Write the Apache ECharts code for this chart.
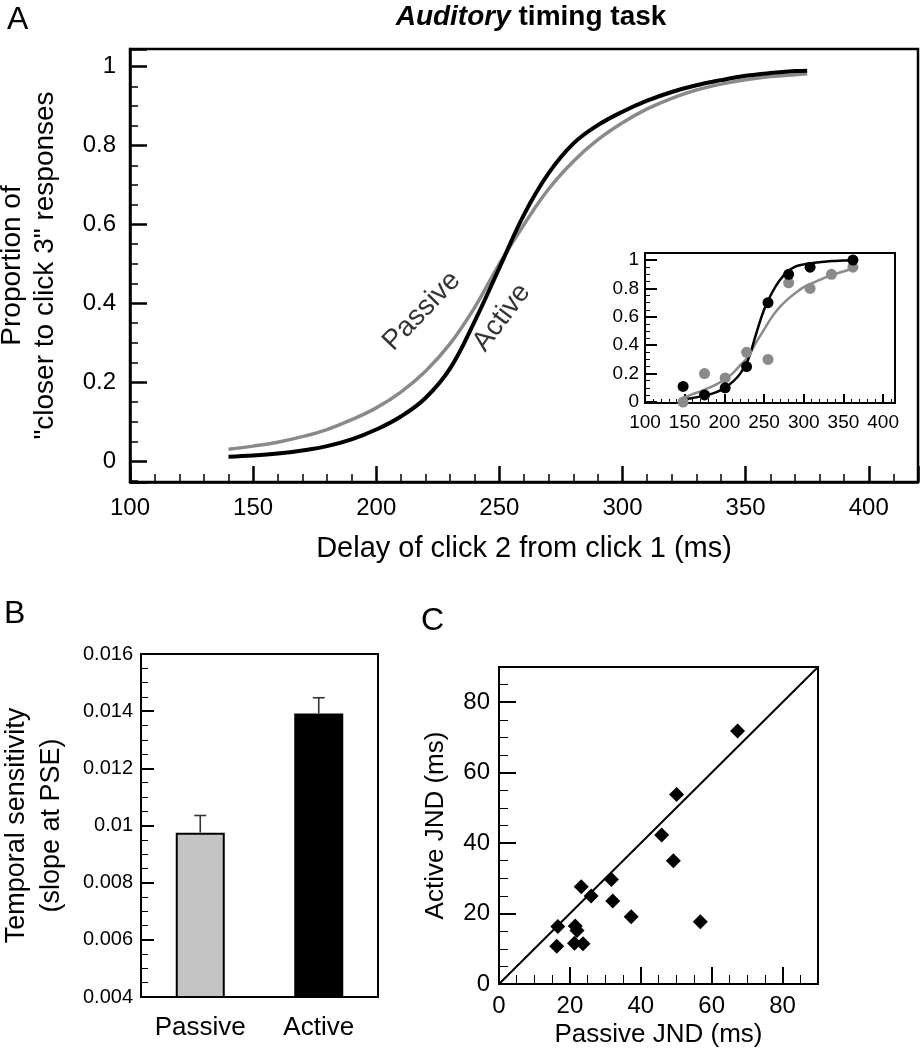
<!DOCTYPE html>
<html><head><meta charset="utf-8">
<script src="https://cdn.jsdelivr.net/npm/echarts@6/dist/echarts.min.js"></script>
<style>html,body{margin:0;padding:0;background:#fff}#c{width:922px;height:1050px}</style>
</head><body><div id="c"></div>
<script>
const FONT = '"Liberation Sans", Arial, Helvetica, sans-serif';

// ---- Panel A: group psychometric functions ----
const curveDelays  = [140,150,160,170,180,190,200,210,220,230,240,250,260,270,280,290,300,310,320,330,340,350,360,370,375];
const activeCurve  = [0.011,0.014,0.019,0.027,0.038,0.055,0.08,0.113,0.16,0.235,0.355,0.49,0.625,0.73,0.805,0.852,0.886,0.914,0.936,0.953,0.966,0.977,0.984,0.989,0.99];
const passiveCurve = [0.03,0.038,0.048,0.062,0.08,0.105,0.135,0.175,0.228,0.298,0.39,0.50,0.60,0.69,0.76,0.815,0.858,0.893,0.92,0.941,0.956,0.967,0.975,0.98,0.982];
const curveNames = ['Passive', 'Active'];

// ---- Inset: single subject ----
const insetActiveX  = [148,175,201,228,255,281,308,362];
const insetActiveY  = [0.11,0.05,0.10,0.25,0.70,0.90,0.95,1.0];
const insetPassiveX = [148,175,201,228,255,281,308,335,362];
const insetPassiveY = [0.0,0.20,0.17,0.35,0.30,0.84,0.80,0.90,0.95];
const insetFitX        = [148,160,175,190,200,210,220,230,240,250,260,270,280,290,300,310,320,335,350,362];
const insetFitActive   = [0.016,0.028,0.045,0.07,0.098,0.14,0.20,0.30,0.48,0.65,0.77,0.86,0.92,0.955,0.97,0.978,0.985,0.993,0.997,1.0];
const insetFitPassive  = [0.03,0.055,0.087,0.125,0.157,0.20,0.26,0.32,0.42,0.51,0.60,0.67,0.725,0.77,0.81,0.835,0.86,0.895,0.92,0.94];

// ---- Panel B: slope at PSE ----
const groupNames = ['Passive', 'Active'];
const slopeMeans = [0.00975, 0.01392];
const slopeErrs  = [0.0006, 0.00055];

// ---- Panel C: JNDs ----
const passiveJND = [67.3,50.1,45.9,49.2,56.8,31.7,23.2,26.0,32.1,37.3,16.6,21.5,22.0,16.3,21.3,23.7];
const activeJND  = [71.8,53.8,42.3,35.0,17.7,29.7,27.6,25.0,23.6,19.1,16.3,16.5,15.2,10.7,11.6,11.4];
const unityLine  = [0, 90];

const pair = (xs, ys) => xs.map((x, i) => [x, ys[i]]);

function axis(o) {
  return {
    type: 'value', gridIndex: o.grid, min: o.min, max: o.max, interval: o.interval,
    splitNumber: o.splitNumber,
    axisLine: { show: true, onZero: false, lineStyle: { color: '#000', width: o.lw } },
    axisTick: { show: true, inside: true, length: o.tl, lineStyle: { color: '#000', width: o.lw } },
    minorTick: { show: o.minor > 0, splitNumber: o.minor, length: o.ml, lineStyle: { color: '#000', width: Math.max(1, o.lw - 1) } },
    splitLine: { show: false },
    axisLabel: { color: '#000', fontFamily: FONT, fontSize: o.fs, margin: o.margin, formatter: o.fmt },
    name: o.name, nameLocation: 'middle', nameGap: o.nameGap, nameRotate: o.nameRotate,
    nameMoveOverlap: false,
    nameTextStyle: { color: '#000', fontFamily: FONT, fontSize: o.nfs, lineHeight: o.nlh }
  };
}
const fmtStep = (step) => (v) => {
  const r = Math.round(v / step);
  return Math.abs(v / step - r) < 1e-6 ? String(+(r * step).toFixed(4)) : '';
};

const chart = echarts.init(document.getElementById('c'));
chart.setOption({
  animation: false,
  backgroundColor: '#fff',
  graphic: [
    { type: 'text', left: 7, top: 4, style: { text: 'A', font: '32px ' + FONT, fill: '#000' } },
    { type: 'text', left: 4, top: 598, style: { text: 'B', font: '32px ' + FONT, fill: '#000' } },
    { type: 'text', left: 421, top: 605, style: { text: 'C', font: '32px ' + FONT, fill: '#000' } },
    { type: 'text', x: 531, y: 3, style: {
        text: '{a|Auditory}{b| timing task}', align: 'center', fill: '#000',
        rich: {
          a: { fontFamily: FONT, fontSize: 28, fontWeight: 'bold', fontStyle: 'italic', fill: '#000' },
          b: { fontFamily: FONT, fontSize: 28, fontWeight: 'bold', fill: '#000' }
        } } }
  ],
  grid: [
    { left: 130, top: 49, width: 788, height: 433, show: true, borderColor: '#000', borderWidth: 2.5, backgroundColor: 'transparent', outerBoundsMode: 'none' },
    { left: 645, top: 253, width: 250, height: 150, show: true, borderColor: '#000', borderWidth: 2, backgroundColor: '#fff', outerBoundsMode: 'none' },
    { left: 141, top: 654, width: 237, height: 343, show: true, borderColor: '#000', borderWidth: 2, backgroundColor: 'transparent', outerBoundsMode: 'none' },
    { left: 499, top: 667, width: 319, height: 317, show: true, borderColor: '#000', borderWidth: 2, backgroundColor: 'transparent', outerBoundsMode: 'none' }
  ],
  xAxis: [
    axis({ grid: 0, min: 100, max: 420, interval: 50, lw: 2.5, tl: 16, minor: 5, ml: 8, fs: 24, margin: 14, fmt: fmtStep(50),
      name: 'Delay of click 2 from click 1 (ms)', nameGap: 52, nfs: 29 }),
    axis({ grid: 1, min: 100, max: 415, interval: 50, lw: 2, tl: 9, minor: 5, ml: 4, fs: 19, margin: 10, fmt: fmtStep(50) }),
    { type: 'category', gridIndex: 2, data: groupNames,
      axisLine: { show: true, lineStyle: { color: '#000', width: 2 } }, axisTick: { show: false },
      axisLabel: { color: '#000', fontFamily: FONT, fontSize: 26, margin: 18 } },
    axis({ grid: 3, min: 0, max: 90, interval: 20, lw: 2, tl: 17, minor: 4, ml: 9, fs: 24, margin: 10, fmt: fmtStep(20),
      name: 'Passive JND (ms)', nameGap: 38, nfs: 26 })
  ],
  yAxis: [
    axis({ grid: 0, min: -0.053, max: 1.045, splitNumber: 5, lw: 2.5, tl: 17, minor: 4, ml: 8, fs: 24, margin: 14, fmt: fmtStep(0.2),
      name: 'Proportion of\n"closer to click 3" responses', nameGap: 68, nameRotate: 90, nfs: 28, nlh: 33 }),
    axis({ grid: 1, min: -0.007, max: 1.05, splitNumber: 5, lw: 2, tl: 12, minor: 4, ml: 5, fs: 19, margin: 6, fmt: fmtStep(0.2) }),
    axis({ grid: 2, min: 0.004, max: 0.016, interval: 0.002, lw: 2, tl: 13, minor: 4, ml: 7, fs: 20, margin: 8, fmt: fmtStep(0.002),
      name: 'Temporal sensitivity\n(slope at PSE)', nameGap: 72, nameRotate: 90, nfs: 27, nlh: 35 }),
    axis({ grid: 3, min: 0, max: 90, interval: 20, lw: 2, tl: 17, minor: 4, ml: 9, fs: 24, margin: 9, fmt: fmtStep(20),
      name: 'Active JND (ms)', nameGap: 50, nameRotate: 90, nfs: 26 })
  ],
  series: [
    { type: 'line', xAxisIndex: 0, yAxisIndex: 0, data: pair(curveDelays, passiveCurve), smooth: 0.4, showSymbol: false,
      lineStyle: { color: '#8a8a8a', width: 3.5 }, z: 3 },
    { type: 'line', xAxisIndex: 0, yAxisIndex: 0, data: pair(curveDelays, activeCurve), smooth: 0.4, showSymbol: false,
      lineStyle: { color: '#000', width: 4 }, z: 4 },
    { type: 'scatter', xAxisIndex: 0, yAxisIndex: 0, symbolSize: 0, silent: true, z: 5,
      data: [
        { name: curveNames[0], value: [218.5, 0.38], label: { rotate: 46 } },
        { name: curveNames[1], value: [251, 0.364], label: { rotate: 53 } }
      ],
      label: { show: true, position: 'inside', formatter: '{b}', color: '#000', fontFamily: FONT, fontSize: 28 } },

    { type: 'line', xAxisIndex: 1, yAxisIndex: 1, data: pair(insetFitX, insetFitPassive), smooth: 0.4, showSymbol: false,
      lineStyle: { color: '#8a8a8a', width: 2.5 }, z: 6 },
    { type: 'line', xAxisIndex: 1, yAxisIndex: 1, data: pair(insetFitX, insetFitActive), smooth: 0.4, showSymbol: false,
      lineStyle: { color: '#000', width: 2.5 }, z: 7 },
    { type: 'scatter', xAxisIndex: 1, yAxisIndex: 1, data: pair(insetPassiveX, insetPassiveY), symbolSize: 11,
      itemStyle: { color: '#8a8a8a', opacity: 1 }, z: 8 },
    { type: 'scatter', xAxisIndex: 1, yAxisIndex: 1, data: pair(insetActiveX, insetActiveY), symbolSize: 11,
      itemStyle: { color: '#000', opacity: 1 }, z: 9 },

    { type: 'bar', xAxisIndex: 2, yAxisIndex: 2, barWidth: 49,
      data: slopeMeans.map((v, i) => ({ value: v, itemStyle: { color: i === 0 ? '#c4c4c4' : '#000' } })),
      itemStyle: { borderColor: '#000', borderWidth: 2 }, z: 3 },
    { type: 'custom', xAxisIndex: 2, yAxisIndex: 2, z: 4,
      data: groupNames.map((g, i) => [i, slopeMeans[i], slopeErrs[i]]),
      encode: { x: 0, y: 1 },
      renderItem: (params, api) => {
        const i = api.value(0), m = api.value(1), e = api.value(2);
        const b = api.coord([i, m]), t = api.coord([i, m + e]);
        const hw = 6, st = { stroke: '#333', lineWidth: 1.6 };
        return { type: 'group', children: [
          { type: 'line', shape: { x1: b[0], y1: b[1], x2: t[0], y2: t[1] }, style: st },
          { type: 'line', shape: { x1: t[0] - hw, y1: t[1], x2: t[0] + hw, y2: t[1] }, style: st }
        ] };
      } },

    { type: 'line', xAxisIndex: 3, yAxisIndex: 3, data: unityLine.map(v => [v, v]), showSymbol: false,
      lineStyle: { color: '#000', width: 2 }, z: 3 },
    { type: 'scatter', xAxisIndex: 3, yAxisIndex: 3, data: pair(passiveJND, activeJND), symbol: 'diamond', symbolSize: 15,
      itemStyle: { color: '#000', opacity: 1 }, z: 4 }
  ]
});
</script></body></html>
